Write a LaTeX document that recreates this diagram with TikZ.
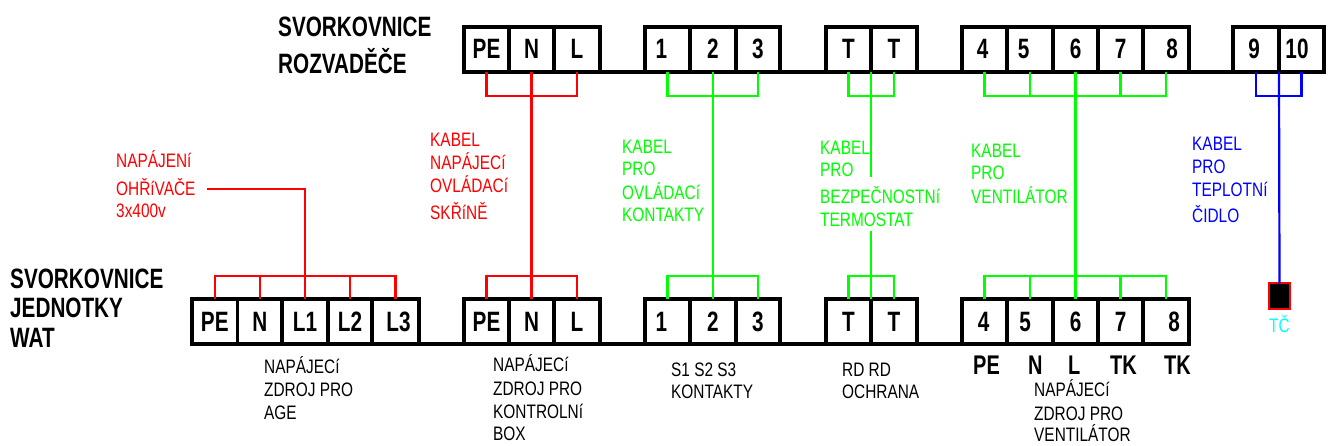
\documentclass[tikz,border=0pt]{standalone}
\usepackage{fontspec}
\setmainfont{Liberation Sans}
\newfontfamily\cadthin[FakeStretch=0.79]{Liberation Sans}
\newfontfamily\cadbold[FakeStretch=0.74,BoldFont={Liberation Sans Bold}]{Liberation Sans Bold}
\tikzset{
  term/.style={draw=black,line width=3.8pt,inner sep=0pt,outer sep=0pt,minimum height=45pt,
     font=\cadbold\fontsize{28}{28}\selectfont,text=black},
  bus/.style={draw=black,line width=3.8pt},
  wire/.style={line width=2.2pt},
  rw/.style={wire,draw={rgb,255:red,255;green,0;blue,0}},
  gw/.style={wire,draw={rgb,255:red,0;green,255;blue,0}},
  bw/.style={wire,draw={rgb,255:red,0;green,0;blue,255}},
  lbl/.style={anchor=base west,inner sep=0pt,font=\cadthin\fontsize{19.5}{20}\selectfont},
  hdr/.style={anchor=base west,inner sep=0pt,font=\cadbold\fontsize{28}{28}\selectfont,text=black},
  sub/.style={anchor=base west,inner sep=0pt,font=\cadbold\fontsize{27}{27}\selectfont,text=black},
  rl/.style={lbl,text={rgb,255:red,255;green,0;blue,0}},
  gl/.style={lbl,text={rgb,255:red,0;green,255;blue,0}},
  bl/.style={lbl,text={rgb,255:red,0;green,0;blue,255}},
  kl/.style={lbl,text=black},
  cl/.style={lbl,text={rgb,255:red,0;green,255;blue,255}},
  sensor/.style={draw={rgb,255:red,255;green,0;blue,0},fill=black,line width=2pt,inner sep=0pt,outer sep=0pt,minimum width=21pt,minimum height=25pt}
}
% name, left x, right x, centre y, label
\newcommand{\tbox}[5]{\node[term,minimum width=#3pt-#2pt] (#1) at ({(#2+#3)/2},#4) {#5};}
% label nudged sideways inside its box (the kern counts twice in a centred box)
\newcommand{\nudge}[2]{\hspace*{#1pt}#2}
\begin{document}
\begin{tikzpicture}[x=1pt,y=-1pt]
\path[use as bounding box,fill=white] (0,0) rectangle (1330,446);

% upper terminal row
\def\ty{49.2}
\tbox{tpe}{464}{509}{\ty}{PE}
\tbox{tn}{509}{554}{\ty}{N}
\tbox{tl}{554}{600}{\ty}{L}
\tbox{tone}{645}{690}{\ty}{\nudge{-12}{1}}
\tbox{ttwo}{690}{736}{\ty}{2}
\tbox{tthree}{736}{780}{\ty}{3}
\tbox{tta}{826}{871}{\ty}{T}
\tbox{ttb}{871}{917}{\ty}{T}
\tbox{tfour}{962}{1007}{\ty}{\nudge{-4}{4}}
\tbox{tfive}{1007}{1053}{\ty}{\nudge{-13}{5}}
\tbox{tsix}{1053}{1098}{\ty}{6}
\tbox{tseven}{1098}{1143}{\ty}{7}
\tbox{teight}{1143}{1189}{\ty}{\nudge{12}{8}}
\tbox{tnine}{1233}{1279}{\ty}{\nudge{-4}{9}}
\tbox{tten}{1279}{1324}{\ty}{\nudge{-9}{10}}
\draw[bus] (tpe.south west) -- (tten.south east);

% lower terminal row
\def\by{321.8}
\tbox{ape}{192}{237.5}{\by}{PE}
\tbox{an}{237.5}{282}{\by}{N}
\tbox{ala}{282}{328}{\by}{L1}
\tbox{alb}{328}{372}{\by}{L2}
\tbox{alc}{372}{419}{\by}{\nudge{6}{L3}}
\tbox{bpe}{464}{509}{\by}{PE}
\tbox{bn}{509}{554}{\by}{N}
\tbox{bl}{554}{600}{\by}{L}
\tbox{bone}{645}{690}{\by}{\nudge{-12}{1}}
\tbox{btwo}{690}{736}{\by}{2}
\tbox{bthree}{736}{780}{\by}{3}
\tbox{bta}{826}{871}{\by}{T}
\tbox{btb}{871}{917}{\by}{T}
\tbox{bfour}{962}{1007}{\by}{\nudge{-2}{4}}
\tbox{bfive}{1007}{1053}{\by}{\nudge{-10}{5}}
\tbox{bsix}{1053}{1098}{\by}{6}
\tbox{bseven}{1098}{1143}{\by}{7}
\tbox{beight}{1143}{1189}{\by}{\nudge{16}{8}}
\draw[bus] (ape.south west) -- (beight.south east);

% sensor
\node[sensor] (tc) at (1279.5,296) {};
\node[cl] (tclbl) at (1269,332) {TČ};

% free ends
\coordinate (heat) at (207,189);
\coordinate (ttend) at (871,177);
\coordinate (btend) at (871,231);

% red wires
\draw[rw] (tpe.south) -- ++(0,24) -| (tl.south);
\draw[rw] (tn.south) -- (bn.north);
\draw[rw] (bpe.north) -- ++(0,-23) -| (bl.north);
\draw[rw] (ape.north) -- ++(0,-23) -| (alc.north);
\draw[rw] (an.north) -- ++(0,-23);
\draw[rw] (alb.north) -- ++(0,-23);
\draw[rw] (heat) -| (ala.north);

% green wires
\draw[gw] (tone.south) -- ++(0,24) -| (tthree.south);
\draw[gw] (ttwo.south) -- (btwo.north);
\draw[gw] (bone.north) -- ++(0,-23) -| (bthree.north);
\draw[gw] (tta.south) -- ++(0,24) -| (ttb.south);
\draw[gw] (tta.south east) -- (ttend);
\draw[gw] (bta.north) -- ++(0,-23) -| (btb.north);
\draw[gw] (btend) -- (bta.north east);
\draw[gw] (tfour.south) -- ++(0,24) -| (teight.south);
\draw[gw] (tfive.south) -- ++(0,24);
\draw[gw] (tseven.south) -- ++(0,24);
\draw[gw] (tsix.south) -- (bsix.north);
\draw[gw] (bfour.north) -- ++(0,-23) -| (beight.north);
\draw[gw] (bfive.north) -- ++(0,-23);
\draw[gw] (bseven.north) -- ++(0,-23);

% blue wires
\draw[bw] (tnine.south) -- ++(0,24) -| (tten.south);
\draw[bw] (tnine.south east) -- (tc.north);

% headings
\node[hdr] (h1) at (278,37) {SVORKOVNICE};
\node[hdr] (h2) at (278,74) {ROZVADĚČE};
\node[hdr] (h3) at (10,288) {SVORKOVNICE};
\node[hdr] (h4) at (10,317) {JEDNOTKY};
\node[hdr] (h5) at (10,347) {WAT};

% red labels
\node[rl] (ra1) at (116,168) {NAPÁJENí};
\node[rl] (ra2) at (116,196) {OHŘíVAČE};
\node[rl] (ra3) at (116,218) {3x400v};
\node[rl] (rb1) at (430,147) {KABEL};
\node[rl] (rb2) at (430,170) {NAPÁJECí};
\node[rl] (rb3) at (430,193) {OVLÁDACí};
\node[rl] (rb4) at (430,220) {SKŘíNĚ};

% green labels
\node[gl] (ga1) at (622,154) {KABEL};
\node[gl] (ga2) at (622,176) {PRO};
\node[gl] (ga3) at (622,200) {OVLÁDACí};
\node[gl] (ga4) at (622,222) {KONTAKTY};
\node[gl] (gb1) at (820,155) {KABEL};
\node[gl] (gb2) at (820,177) {PRO};
\node[gl] (gb3) at (820,204) {BEZPEČNOSTNí};
\node[gl] (gb4) at (820,227) {TERMOSTAT};
\node[gl] (gc1) at (971,158) {KABEL};
\node[gl] (gc2) at (971,180) {PRO};
\node[gl] (gc3) at (971,204) {VENTILÁTOR};

% blue labels
\node[bl] (ba1) at (1192,151) {KABEL};
\node[bl] (ba2) at (1192,174) {PRO};
\node[bl] (ba3) at (1192,197) {TEPLOTNí};
\node[bl] (ba4) at (1192,223) {ČIDLO};

% black labels
\node[kl] (ka1) at (264,373) {NAPÁJECí};
\node[kl] (ka2) at (264,396) {ZDROJ PRO};
\node[kl] (ka3) at (264,419) {AGE};
\node[kl] (kb1) at (493,371) {NAPÁJECí};
\node[kl] (kb2) at (493,395) {ZDROJ PRO};
\node[kl] (kb3) at (493,418) {KONTROLNí};
\node[kl] (kb4) at (493,440) {BOX};
\node[kl] (kc1) at (671,376) {S1 S2 S3};
\node[kl] (kc2) at (671,398) {KONTAKTY};
\node[kl] (kd1) at (842,376) {RD RD};
\node[kl] (kd2) at (842,398) {OCHRANA};
\node[sub] (s1) at (973,374) {PE};
\node[sub] (s2) at (1028,374) {N};
\node[sub] (s3) at (1068,374) {L};
\node[sub] (s4) at (1110,374) {TK};
\node[sub] (s5) at (1164,374) {TK};
\node[kl] (ke1) at (1034,396) {NAPÁJECí};
\node[kl] (ke2) at (1034,420) {ZDROJ PRO};
\node[kl] (ke3) at (1034,441) {VENTILÁTOR};
\end{tikzpicture}
\end{document}
